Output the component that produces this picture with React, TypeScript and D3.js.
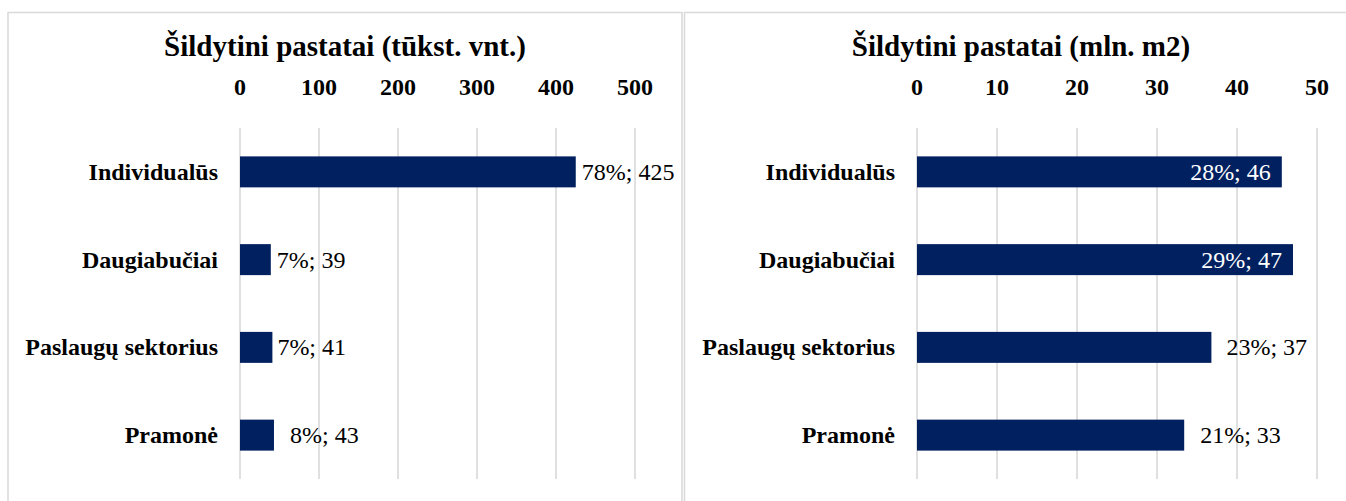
import React from "react";
import * as d3 from "d3";

const categories = ["Individualūs", "Daugiabučiai", "Paslaugų sektorius", "Pramonė"];

const leftTitle = "Šildytini pastatai (tūkst. vnt.)";
const leftValues = [425, 39, 41, 43];
const leftShares = [78, 7, 7, 8];
const leftTicks = [0, 100, 200, 300, 400, 500];

const rightTitle = "Šildytini pastatai (mln. m2)";
const rightValues = [45.6, 47, 36.8, 33.4];
const rightShares = [28, 29, 23, 21];
const rightTicks = [0, 10, 20, 30, 40, 50];

const FONT = "'Liberation Serif', 'Times New Roman', serif";
const BAR = "#002060";
const GRID = "#d9d9d9";

type PanelProps = {
  title: string;
  values: number[];
  shares: number[];
  ticks: number[];
  max: number;
  x0: number;
  x1: number;
  titleX: number;
  insideLabels: boolean[];
  gap: number[];
};

function Panel(p: PanelProps) {
  const x = d3.scaleLinear().domain([0, p.max]).range([p.x0, p.x1]);
  const y = d3
    .scaleBand<string>()
    .domain(categories)
    .range([128, 479])
    .paddingInner(0.647)
    .paddingOuter(0.3235);
  const bw = y.bandwidth();
  return (
    <g>
      <text x={p.titleX} y={56} textAnchor="middle" fontFamily={FONT} fontWeight="bold" fontSize={29} fill="#000">
        {p.title}
      </text>
      {p.ticks.map((t) => (
        <g key={t}>
          <line x1={x(t)} x2={x(t)} y1={128} y2={479} stroke={GRID} strokeWidth={1.6} />
          <text x={x(t)} y={95} textAnchor="middle" fontFamily={FONT} fontWeight="bold" fontSize={24} fill="#000">
            {t}
          </text>
        </g>
      ))}
      {categories.map((c, i) => {
        const yc = (y(c) as number) + bw / 2;
        const v = p.values[i];
        const label = `${p.shares[i]}%; ${Math.round(v)}`;
        const inside = p.insideLabels[i];
        return (
          <g key={c}>
            <text x={p.x0 - 22} y={yc + 8} textAnchor="end" fontFamily={FONT} fontWeight="bold" fontSize={24} fill="#000">
              {c}
            </text>
            <rect x={x(0)} y={y(c)} width={x(v) - x(0)} height={bw} fill={BAR} />
            <text
              x={inside ? x(v) - 11 : x(v) + p.gap[i]}
              y={yc + 8}
              textAnchor={inside ? "end" : "start"}
              fontFamily={FONT}
              fontSize={24}
              fill={inside ? "#fff" : "#000"}
            >
              {label}
            </text>
          </g>
        );
      })}
    </g>
  );
}

export default function App() {
  return (
    <svg
      width={1346}
      height={501}
      style={{ position: "absolute", left: 0, top: 0, background: "#fff" }}
    >
      <rect x={0} y={0} width={1346} height={501} fill="#fff" />
      <rect x={8} y={12.5} width={674} height={520} fill="none" stroke={GRID} strokeWidth={1.5} />
      <rect x={684.5} y={12.5} width={680} height={520} fill="none" stroke={GRID} strokeWidth={1.5} />
      <Panel
        title={leftTitle}
        values={leftValues}
        shares={leftShares}
        ticks={leftTicks}
        max={500}
        x0={240}
        x1={635}
        titleX={345}
        insideLabels={[false, false, false, false]}
        gap={[6, 6, 5, 16]}
      />
      <Panel
        title={rightTitle}
        values={rightValues}
        shares={rightShares}
        ticks={rightTicks}
        max={50}
        x0={917}
        x1={1317}
        titleX={1021}
        insideLabels={[true, true, false, false]}
        gap={[15, 15, 15, 16]}
      />
    </svg>
  );
}
